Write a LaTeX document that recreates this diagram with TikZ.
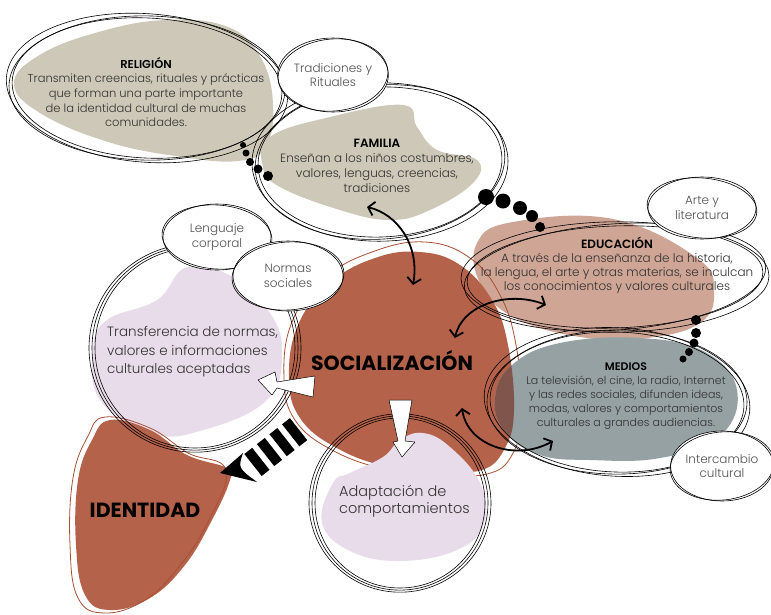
\documentclass[tikz,border=0pt]{standalone}
\usepackage{fontspec}
\setmainfont{Poppins}[UprightFont=* Light,BoldFont=* SemiBold]
\newfontfamily\gruesa{Poppins}[UprightFont=* Bold]
\usetikzlibrary{shapes.geometric,arrows.meta}
\definecolor{beige}{RGB}{206,200,184}
\definecolor{terra}{RGB}{181,98,74}
\definecolor{terralinea}{RGB}{168,80,54}
\definecolor{rosa}{RGB}{207,165,149}
\definecolor{gris}{RGB}{150,161,164}
\definecolor{lila}{RGB}{233,220,234}
\definecolor{mezcla}{RGB}{128,86,76}
\definecolor{texto}{RGB}{50,50,50}

% anillo dibujado a mano: tres elipses casi iguales
\newcommand{\anillo}[4]{%
	\foreach \dr/\da in {0/0,3/2,6/-1.5}{
		\draw[ring] (#1) ellipse [x radius=#2+\dr, y radius=#3+0.7*\dr, rotate=#4+\da];
	}}

\begin{document}
\begin{tikzpicture}[x=1pt,y=-1pt,
		ring/.style={line width=0.6pt,black},
		chico/.style={ellipse,draw,fill=white,line width=0.6pt,inner sep=0pt,align=center,
			text=texto!85,font=\fontsize{12}{14.5}\selectfont},
		cuerpo/.style={align=center,text=texto,inner sep=0pt},
		titulo/.style={font=\gruesa\fontsize{20.5}{24}\selectfont,text=black,inner sep=0pt},
		flecha/.style={line width=1.8pt,arrows={Straight Barb[length=6pt,width=14pt]-Straight Barb[length=6pt,width=14pt]}},
		bloque/.style={fill=white,draw=black,line width=0.5pt,line join=round}]
	\useasboundingbox (0,0) rectangle (771,614);
	\fill[white] (0,0) rectangle (771,614);

	% manchas de color
	\fill[beige] plot[smooth cycle,tension=0.7] coordinates {(14,84) (38,56) (95,33) (165,20) (228,27) (261,58) (273,104) (266,146) (238,161) (175,156) (105,141) (40,113)};
	\fill[beige] plot[smooth cycle,tension=0.7] coordinates {(263,167) (270,137) (330,117) (403,105) (417,127) (437,150) (477,160) (473,183) (430,210) (390,220) (340,210) (280,187)};
	\fill[lila] plot[smooth cycle,tension=0.7] coordinates {(187,267) (157,300) (107,320) (93,350) (100,400) (150,433) (200,431) (267,400) (282,350) (268,310) (233,277)};
	\fill[rosa] plot[smooth cycle,tension=0.7] coordinates {(477,243) (513,222) (613,219) (697,258) (714,292) (700,323) (647,338) (580,337) (513,317) (480,283)};
	\fill[terra] plot[smooth cycle,tension=0.7] coordinates {(420,252) (460,265) (492,300) (508,345) (514,410) (505,448) (482,470) (440,470) (385,466) (335,447) (300,418) (289,378) (298,325) (330,283) (375,258)};
	\draw[terralinea,line width=0.8pt] plot[smooth cycle,tension=0.7] coordinates {(425,242) (470,258) (500,295) (516,345) (522,412) (512,455) (487,474) (440,474) (385,469) (332,450) (295,420) (284,378) (292,322) (325,278) (372,252)};
	\fill[gris] plot[smooth cycle,tension=0.7] coordinates {(495,398) (512,365) (560,343) (640,338) (705,352) (737,390) (720,436) (660,458) (590,460) (540,455) (505,432)};
	\begin{scope}
		\clip plot[smooth cycle,tension=0.7] coordinates {(495,398) (512,365) (560,343) (640,338) (705,352) (737,390) (720,436) (660,458) (590,460) (540,455) (505,432)};
		\fill[mezcla] plot[smooth cycle,tension=0.7] coordinates {(420,252) (460,265) (492,300) (508,345) (514,410) (505,448) (482,470) (440,470) (385,466) (335,447) (300,418) (289,378) (298,325) (330,283) (375,258)};
	\end{scope}
	\fill[lila] plot[smooth cycle,tension=0.7] coordinates {(333,483) (350,473) (383,457) (400,440) (423,433) (450,447) (480,483) (484,523) (457,550) (400,561) (350,551) (322,523)};
	\fill[terra] plot[smooth cycle,tension=0.7] coordinates {(110,420) (150,430) (187,455) (227,468) (230,480) (212,520) (185,565) (150,598) (110,610) (85,595) (76,545) (78,480) (92,440)};
	\draw[terralinea,line width=0.8pt] plot[smooth cycle,tension=0.7] coordinates {(105,417) (150,428) (188,453) (226,470) (208,522) (178,568) (145,600) (105,613) (78,598) (70,545) (73,478) (88,436)};

	% anillos
	\coordinate (rel) at (147,88);
	\coordinate (fam) at (380,162);
	\coordinate (edu) at (615,277);
	\coordinate (med) at (617,402);
	\coordinate (tra) at (195,348);
	\coordinate (ada) at (400,503);
	\anillo{rel}{135}{70}{-3}
	\anillo{fam}{122}{75}{2}
	\anillo{edu}{148}{51}{2}
	\anillo{med}{127}{70}{-2}
	\anillo{tra}{100}{100}{0}
	\anillo{ada}{85}{85}{0}

	% cadenas de puntos
	\foreach \x/\y/\r in {243/145/3,246/153/3.5,250/162/4,258/169/4.5,268/176/5,
		486/197/8,503/201/7.5,520/208/7,532/216/6,540/227/5,
		696/320/5,696/333/5,694/343/4.5,689/352/4,683/359/3.5}
		\fill (\x,\y) circle [radius=\r];

	% elipses pequenas
	\node[chico,minimum width=108,minimum height=74] (trad) at (333,75) {Tradiciones y\\Rituales};
	\draw[ring] (trad.center) ellipse [x radius=55, y radius=36, rotate=5];
	\node[chico,minimum width=108,minimum height=66] (leng) at (217,237) {Lenguaje\\corporal};
	\draw[ring] (leng.center) ellipse [x radius=55, y radius=32, rotate=-4];
	\node[chico,minimum width=110,minimum height=70] (norm) at (288,276) {Normas\\sociales};
	\draw[ring] (norm.center) ellipse [x radius=56, y radius=34, rotate=4];
	\node[chico,minimum width=108,minimum height=62] (arte) at (702,208) {Arte y\\literatura};
	\draw[ring] (arte.center) ellipse [x radius=55, y radius=30, rotate=-5];
	\node[chico,minimum width=102,minimum height=70] (inter) at (722,466) {Intercambio\\cultural};
	\draw[ring] (inter.center) ellipse [x radius=52, y radius=34, rotate=6];

	% textos
	\node[cuerpo,font=\fontsize{11.5}{14.7}\selectfont] (relTxt) at (146,92) {{\bfseries\color{black}RELIGIÓN}\\Transmiten creencias, rituales y prácticas\\que forman una parte importante\\de la identidad cultural de muchas\\comunidades.};
	\node[cuerpo,font=\fontsize{12}{15}\selectfont] (famTxt) at (377,166) {{\bfseries\color{black}FAMILIA}\\Enseñan a los niños costumbres,\\valores, lenguas, creencias,\\tradiciones};
	\node[cuerpo,font=\fontsize{12}{14}\selectfont] (eduTxt) at (617,265) {{\bfseries\color{black}EDUCACIÓN}\\A través de la enseñanza de la historia,\\la lengua, el arte y otras materias, se inculcan\\los conocimientos y valores culturales};
	\node[cuerpo,font=\fontsize{11}{14}\selectfont] (medTxt) at (626,396) {{\bfseries\color{black}MEDIOS}\\La televisión, el cine, la radio, Internet\\y las redes sociales, difunden ideas,\\modas, valores y comportamientos\\culturales a grandes audiencias.};
	\node[cuerpo,align=left,anchor=west,font=\fontsize{13.5}{18.5}\selectfont] (traTxt) at (107,352) {Transferencia de normas,\\valores e informaciones\\culturales aceptadas};
	\node[cuerpo,align=left,anchor=west,font=\fontsize{14.5}{17}\selectfont] (adaTxt) at (339,501) {Adaptación de\\comportamientos};
	\node[titulo] (soc) at (392,361) {SOCIALIZACIÓN};
	\node[titulo] (ide) at (145,510) {IDENTIDAD};

	% flechas curvas
	\coordinate (famA) at (367,207);
	\coordinate (famB) at (413,285);
	\coordinate (eduA) at (455,338);
	\coordinate (eduB) at (546,305);
	\coordinate (medA) at (462,408);
	\coordinate (medB) at (553,441);
	\draw[flecha] (famA) .. controls (397,214) and (420,245) .. (famB);
	\draw[flecha] (eduA) .. controls (462,305) and (508,290) .. (eduB);
	\draw[flecha] (medA) .. controls (467,445) and (515,462) .. (medB);

	% flechas blancas
	\filldraw[bloque] (258,380) -- (275,372) -- (277,382) -- (315,376) -- (313,397) -- (277,388) -- (272,395) -- cycle;
	\filldraw[bloque] (389,400) -- (412,400) -- (405,441) -- (415,442) -- (402,457) -- (393,442) -- (398,441) -- cycle;

	% flecha rayada hacia la identidad
	\coordinate (punta) at (220,473);
	\coordinate (rayaA) at (253,465);
	\coordinate (rayaB) at (300,428);
	\draw[line width=28pt,dash pattern=on 10pt off 6pt] (rayaA) -- (rayaB);
	\fill (punta) -- (243,453) .. controls (238,468) .. (257,482) -- cycle;
\end{tikzpicture}
\end{document}
